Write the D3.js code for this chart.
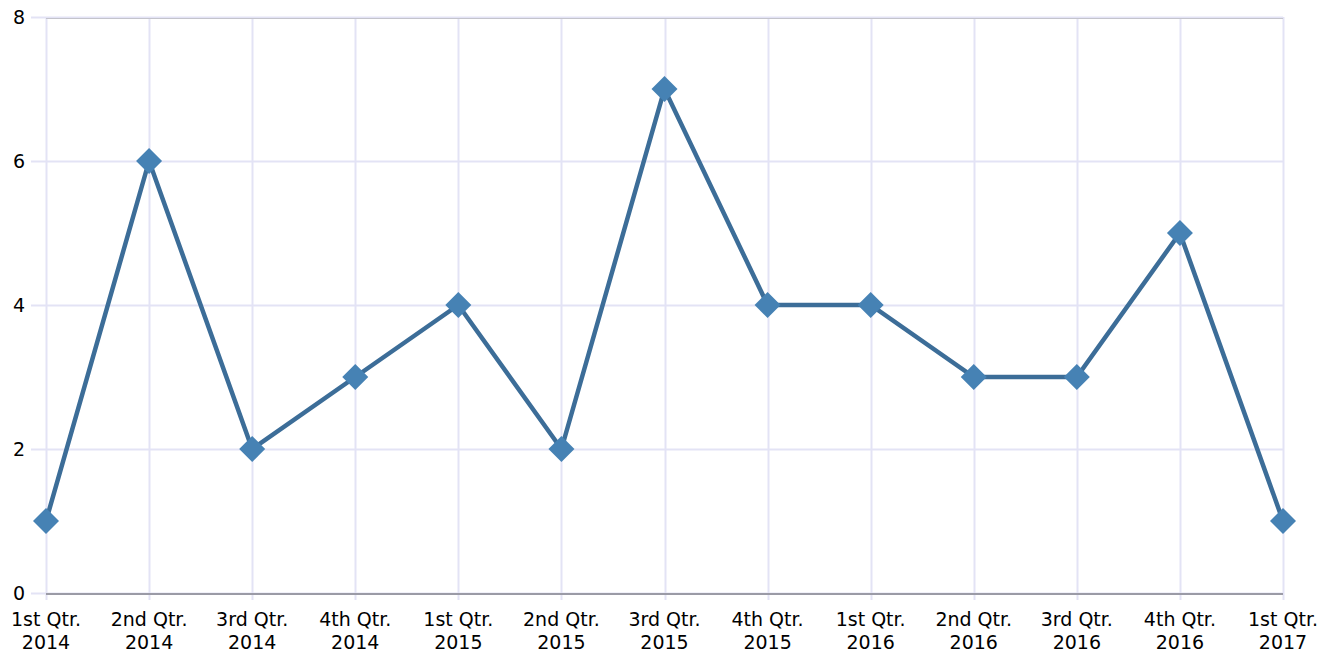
<!DOCTYPE html>
<html>
<head>
<meta charset="utf-8">
<script src="https://cdn.jsdelivr.net/npm/d3@7"></script>
<style>
  body { margin: 0; background: #fff; }
  svg text { font-family: "DejaVu Sans", Verdana, sans-serif; font-size: 19px; fill: #000; }
</style>
</head>
<body>
<div class="result"></div>
<script>
const quarters = ['1st Qtr.', '2nd Qtr.', '3rd Qtr.', '4th Qtr.', '1st Qtr.', '2nd Qtr.', '3rd Qtr.',
  '4th Qtr.', '1st Qtr.', '2nd Qtr.', '3rd Qtr.', '4th Qtr.', '1st Qtr.']
const years = ['2014', '2014', '2014', '2014', '2015', '2015', '2015', '2015', '2016', '2016', '2016', '2016', '2017']
const values = [1, 6, 2, 3, 4, 2, 7, 4, 4, 3, 3, 5, 1]
const yTicks = [0, 2, 4, 6, 8]

const width = 1333
const height = 656
const plotLeft = 46
const plotRight = 1283
const plotTop = 17
const plotBottom = 593

const svg = d3
  .select('.result')
  .append('svg')
  .attr('width', width)
  .attr('height', height)

const x = d3.scaleLinear().domain([0, values.length - 1]).range([plotLeft, plotRight])
const y = d3.scaleLinear().domain([0, 8]).range([plotBottom, plotTop])

// horizontal gridlines
svg.append('g')
  .selectAll('line')
  .data(yTicks)
  .enter()
  .append('line')
  .attr('x1', plotLeft - 15)
  .attr('x2', plotRight)
  .attr('y1', (d) => y(d) + 0.5)
  .attr('y2', (d) => y(d) + 0.5)
  .attr('stroke', '#e3e3f5')
  .attr('stroke-width', 2)

// vertical gridlines (with tick stubs below the axis)
svg.append('g')
  .selectAll('line')
  .data(values)
  .enter()
  .append('line')
  .attr('x1', (d, i) => Math.round(x(i)) + 0.5)
  .attr('x2', (d, i) => Math.round(x(i)) + 0.5)
  .attr('y1', plotTop)
  .attr('y2', plotBottom + 7)
  .attr('stroke', '#e3e3f5')
  .attr('stroke-width', 2)

// top border and x axis line
svg.append('line')
  .attr('x1', plotLeft).attr('x2', plotRight)
  .attr('y1', plotTop + 1.5).attr('y2', plotTop + 1.5)
  .attr('stroke', '#c4c4cc').attr('stroke-width', 1)
svg.append('line')
  .attr('x1', plotLeft).attr('x2', plotRight)
  .attr('y1', plotBottom + 1).attr('y2', plotBottom + 1)
  .attr('stroke', '#9b9ba6').attr('stroke-width', 2)

// y labels
svg.append('g')
  .selectAll('text')
  .data(yTicks)
  .enter()
  .append('text')
  .attr('x', 25)
  .attr('y', (d) => y(d) + 7)
  .attr('text-anchor', 'end')
  .text((d) => d)

// x labels (two lines)
const xl = svg.append('g')
  .selectAll('text')
  .data(values)
  .enter()
  .append('text')
  .attr('text-anchor', 'middle')
xl.append('tspan')
  .attr('x', (d, i) => x(i))
  .attr('y', 626)
  .text((d, i) => quarters[i])
xl.append('tspan')
  .attr('x', (d, i) => x(i))
  .attr('y', 649)
  .text((d, i) => years[i])

// series line
const line = d3.line()
  .x((d, i) => x(i))
  .y((d) => y(d))
svg.append('path')
  .datum(values)
  .attr('d', line)
  .attr('fill', 'none')
  .attr('stroke', '#3c6d98')
  .attr('stroke-width', 4.5)
  .attr('stroke-linejoin', 'miter')

// diamond markers
svg.append('g')
  .selectAll('path')
  .data(values)
  .enter()
  .append('path')
  .attr('d', (d, i) => {
    const cx = x(i)
    const cy = y(d)
    const r = 13
    return 'M' + cx + ',' + (cy - r) + ' L' + (cx + r) + ',' + cy +
      ' L' + cx + ',' + (cy + r) + ' L' + (cx - r) + ',' + cy + ' Z'
  })
  .attr('fill', '#4682b4')
</script>
</body>
</html>
